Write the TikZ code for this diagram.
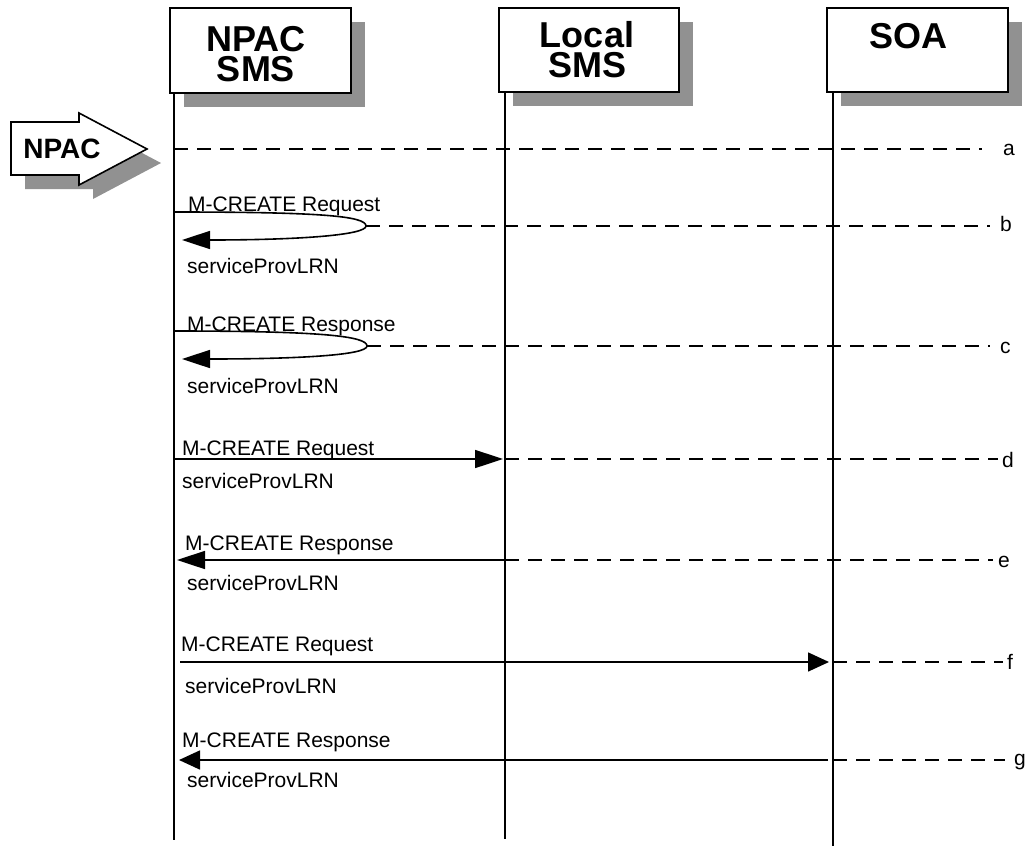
\documentclass[tikz,border=0pt]{standalone}
\usepackage{fontspec}
\setmainfont{Liberation Sans}
\usetikzlibrary{arrows.meta}
\definecolor{shadowgray}{RGB}{145,145,145}
\begin{document}
\begin{tikzpicture}[x=1pt,y=-1pt,
  lbl/.style={font=\fontsize{21}{25}\selectfont, inner sep=0pt, anchor=base west},
  tag/.style={font=\fontsize{21}{25}\selectfont, inner sep=0pt, anchor=west},
  headtext/.style={font=\bfseries\fontsize{36}{30}\selectfont, align=center, inner sep=0pt},
  box/.style={draw, line width=1.6pt, fill=white, minimum width=181pt, minimum height=85pt, inner sep=0pt},
  boxshadow/.style={fill=shadowgray, draw=none, minimum width=181pt, minimum height=85pt, inner sep=0pt},
  life/.style={line width=1.6pt},
  msg/.style={line width=1.6pt, -{Triangle[length=28pt,width=18pt]}},
  msgshort/.style={line width=1.6pt, -{Triangle[length=21pt,width=19pt]}},
  ext/.style={line width=1.6pt, dash pattern=on 14pt off 9pt}]
\useasboundingbox (0,0) rectangle (1027,846);

% ---- NPAC trigger arrow
\fill[shadowgray] (25,136) -- (93,136) -- (93,127) -- (161,163) -- (93,199) -- (93,189) -- (25,189) -- cycle;
\draw[line width=1.6pt, fill=white] (11,122) -- (79,122) -- (79,113) -- (147,149) -- (79,185) -- (79,175) -- (11,175) -- cycle;
\node[font=\bfseries\fontsize{28}{30}\selectfont, inner sep=0pt] (npac) at (62,149) {NPAC};

% ---- header boxes
\node[boxshadow] (s1sh) at (274.5,64.5) {};
\node[box] (s1) at (260.5,50.5) {};
\node[headtext] (t1) at (256,54) {NPAC\\SMS};

\node[boxshadow, minimum width=180pt, minimum height=84pt] (s2sh) at (603,64) {};
\node[box, minimum width=180pt, minimum height=84pt] (s2) at (589,50) {};
\node[headtext] (t2) at (587,50) {Local\\SMS};

\node[boxshadow, minimum height=84pt] (s3sh) at (931.5,64) {};
\node[box, minimum height=84pt] (s3) at (917.5,50) {};
\node[headtext] (t3) at (908,36) {SOA};

% ---- lifelines
\coordinate (l1t) at (174,93);  \coordinate (l1b) at (174,840);
\coordinate (l2t) at (505,92);  \coordinate (l2b) at (505,839);
\coordinate (l3t) at (833,92);  \coordinate (l3b) at (833,846);
\draw[life] (l1t) -- (l1b);
\draw[life] (l2t) -- (l2b);
\draw[life] (l3t) -- (l3b);

% ---- a
\coordinate (a1) at (174,149); \coordinate (ae) at (982,149);
\draw[ext] (a1) -- (ae);
\node[tag] (ta) at (1003,150) {a};

% ---- b
\coordinate (b1) at (174,212); \coordinate (bt) at (366,226); \coordinate (b2) at (182,240);
\coordinate (be) at (990,226);
\draw[msg] (b1) .. controls (320,212) and (366,216) .. (bt) .. controls (366,235) and (300,240) .. (b2);
\draw[ext] (bt) -- (be);
\node[tag] (tb) at (1000,224) {b};
\node[lbl] (bq) at (188,211) {M-CREATE Request};
\node[lbl] (bp) at (187,273) {serviceProvLRN};

% ---- c
\coordinate (c1) at (174,331); \coordinate (ct) at (367,346); \coordinate (c2) at (182,359);
\coordinate (ce) at (990,346);
\draw[msg] (c1) .. controls (320,331) and (367,336) .. (ct) .. controls (367,355) and (300,359) .. (c2);
\draw[ext] (ct) -- (ce);
\node[tag] (tc) at (1000,348) {c};
\node[lbl] (cq) at (187,331) {M-CREATE Response};
\node[lbl] (cp) at (187,393) {serviceProvLRN};

% ---- d
\coordinate (d1) at (174,459); \coordinate (d2) at (503,459); \coordinate (d3) at (505,459);
\coordinate (de) at (998,459);
\draw[msg] (d1) -- (d2);
\draw[ext] (d3) -- (de);
\node[tag] (td) at (1002,460) {d};
\node[lbl] (dq) at (182,455) {M-CREATE Request};
\node[lbl] (dp) at (182,488) {serviceProvLRN};

% ---- e
\coordinate (e1) at (505,560); \coordinate (e2) at (177,560);
\coordinate (ee) at (993,560);
\draw[msg] (e1) -- (e2);
\draw[ext] (e1) -- (ee);
\node[tag] (te) at (998,562) {e};
\node[lbl] (eq) at (185,550) {M-CREATE Response};
\node[lbl] (ep) at (187,590) {serviceProvLRN};

% ---- f
\coordinate (f1) at (180,662); \coordinate (f2) at (829,662); \coordinate (f3) at (833,662);
\coordinate (fe) at (1003,662);
\draw[msgshort] (f1) -- (f2);
\draw[ext] (f3) -- (fe);
\node[tag] (tf) at (1007,662) {f};
\node[lbl] (fq) at (181,651) {M-CREATE Request};
\node[lbl] (fp) at (185,693) {serviceProvLRN};

% ---- g
\coordinate (g1) at (828,760); \coordinate (g2) at (179,760); \coordinate (g3) at (833,760);
\coordinate (ge) at (1005,760);
\draw[msgshort] (g1) -- (g2);
\draw[ext] (g3) -- (ge);
\node[tag] (tg) at (1014,762) {g};
\node[lbl] (gq) at (182,747) {M-CREATE Response};
\node[lbl] (gp) at (187,787) {serviceProvLRN};
\end{tikzpicture}
\end{document}
